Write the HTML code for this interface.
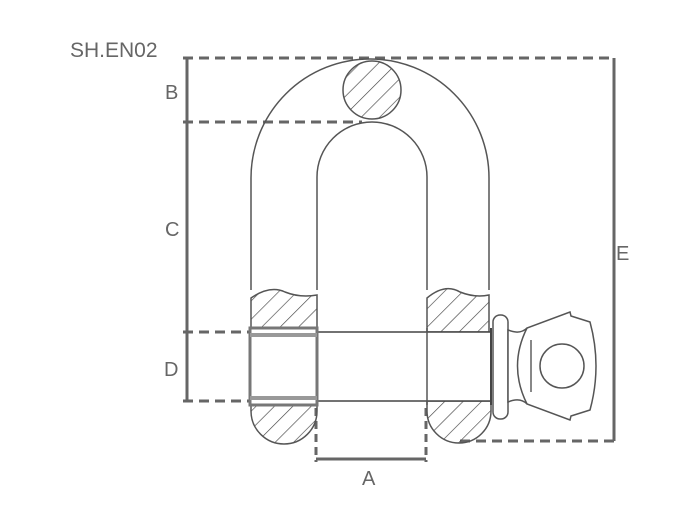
<!DOCTYPE html>
<html><head><style>
body{margin:0;background:#fff;}
svg{display:block;}
text{font-family:"Liberation Sans",sans-serif;fill:#666;}
</style></head><body>
<svg width="700" height="525" viewBox="0 0 700 525" xmlns="http://www.w3.org/2000/svg">
<defs>
<pattern id="h" patternUnits="userSpaceOnUse" width="13" height="13" patternTransform="rotate(45)">
<line x1="0" y1="0" x2="0" y2="13" stroke="#444" stroke-width="1.3"/>
</pattern>
</defs>
<text x="70" y="57" font-size="21">SH.EN02</text>
<text x="165" y="99" font-size="20">B</text>
<text x="165" y="236" font-size="20">C</text>
<text x="164" y="376" font-size="20">D</text>
<text x="616" y="260" font-size="20">E</text>
<text x="362" y="485" font-size="20">A</text>

<g stroke="#666" stroke-width="3" fill="none">
<line x1="183" y1="58" x2="615" y2="58" stroke-dasharray="10,6"/>
<line x1="183" y1="122" x2="362" y2="122" stroke-dasharray="10,6"/>
<line x1="183" y1="332" x2="250" y2="332" stroke-dasharray="10,6"/>
<line x1="183" y1="401" x2="250" y2="401" stroke-dasharray="10,6"/>
<line x1="187" y1="58" x2="187" y2="401"/>
<line x1="614" y1="58" x2="614" y2="441"/>
<line x1="460" y1="441" x2="615" y2="441" stroke-dasharray="10,6"/>
<line x1="316" y1="408" x2="316" y2="462" stroke-dasharray="8,5"/>
<line x1="426" y1="408" x2="426" y2="462" stroke-dasharray="8,5"/>
<line x1="316" y1="459" x2="426" y2="459"/>
</g>

<g stroke="#555" stroke-width="1.5" fill="none">
<path d="M251 290 L251 178 A119 119 0 0 1 489 178 L489 290"/>
<path d="M317 290 L317 177 A55 55 0 0 1 427 177 L427 290"/>
</g>
<circle cx="372" cy="90" r="29" fill="url(#h)" stroke="#555" stroke-width="1.5"/>

<path d="M251 298 Q270 285 285 292 Q300 298 317 295 L317 332 L251 332 Z" fill="url(#h)" stroke="#555" stroke-width="1.5"/>
<path d="M427 298 Q445 283 460 292 Q475 298 489 295 L489 332 L427 332 Z" fill="url(#h)" stroke="#555" stroke-width="1.5"/>
<path d="M251 401 L317 401 L317 411 A33 33 0 0 1 251 411 Z" fill="url(#h)" stroke="#555" stroke-width="1.5"/>
<path d="M427 401 L491 401 L491 411 A32 32 0 0 1 427 411 Z" fill="url(#h)" stroke="#555" stroke-width="1.5"/>

<rect x="251" y="332" width="240" height="69" fill="#fff" stroke="#444" stroke-width="1.5"/>
<rect x="250" y="328" width="67" height="77" fill="#fff" stroke="#777" stroke-width="3"/>
<line x1="250" y1="335" x2="317" y2="335" stroke="#999" stroke-width="4"/>
<line x1="250" y1="398" x2="317" y2="398" stroke="#999" stroke-width="4"/>
<line x1="427" y1="328" x2="427" y2="405" stroke="#555" stroke-width="1.5"/>
<line x1="491" y1="328" x2="491" y2="405" stroke="#444" stroke-width="2"/>

<g stroke="#555" stroke-width="1.5" fill="#fff">
<rect x="493" y="315" width="15" height="104" rx="7"/>
<path d="M508 330 Q520 335 527 328 L570 312 L571 316 L590 322 Q602 366 590 410 L571 416 L570 420 L527 404 Q520 397 508 402 Z"/>
<path d="M527 328 Q508 366 527 404" fill="none"/>
<circle cx="562" cy="366" r="22"/>
<line x1="531" y1="340" x2="531" y2="392" stroke="#888" stroke-width="2"/>
</g>
</svg>
</body></html>
